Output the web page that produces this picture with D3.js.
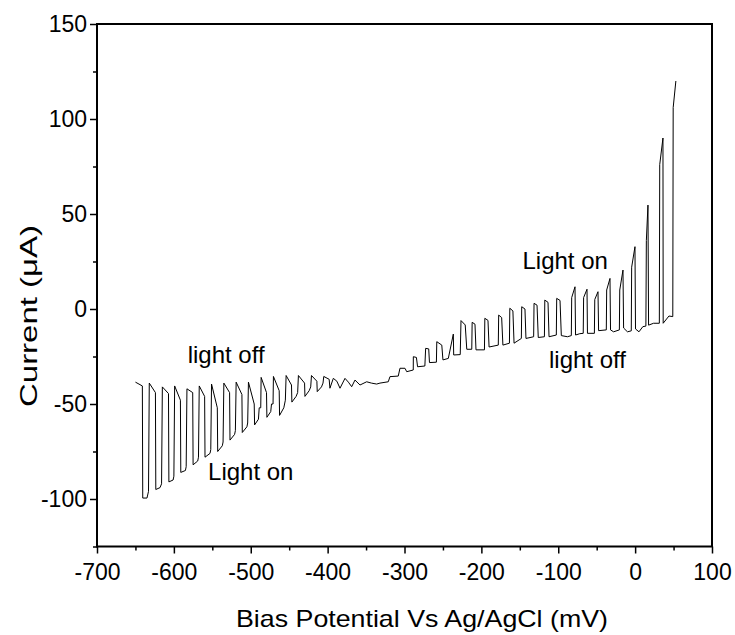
<!DOCTYPE html>
<html>
<head>
<meta charset="utf-8">
<script src="https://cdn.jsdelivr.net/npm/d3@7"></script>
<style>
  body { margin: 0; background: #fff; }
  text { font-family: "Liberation Sans", Arial, sans-serif; fill: #000; }
</style>
</head>
<body>
<svg id="chart" width="735" height="635"></svg>
<script>
// bias potential (mV) / current (uA)
const cathodicScan = [
  [-650, -38.5], [-641, -40.5], [-640.5, -99.5], [-635, -99.5], [-633, -96], [-632, -39],
  [-624, -44], [-623.5, -95], [-618, -94], [-616, -92], [-615, -41],
  [-607, -44.5], [-606.5, -91], [-601, -90], [-600, -88], [-599, -40.5],
  [-591.5, -48], [-591, -86], [-585, -85], [-584, -83], [-583, -42],
  [-575.5, -44], [-575, -82], [-569, -80], [-568, -78], [-567, -40.5],
  [-560, -46], [-559.5, -78], [-553, -76], [-552, -74], [-551, -39.5],
  [-543.5, -52], [-543, -75], [-537, -72], [-536, -70], [-535, -39],
  [-527.5, -44], [-527, -69], [-521, -66], [-520, -64], [-519, -38.5],
  [-511.5, -45], [-511, -65], [-505, -62], [-504, -60], [-503, -38.5],
  [-495.5, -50], [-495, -61], [-490, -58], [-489, -52], [-487, -52], [-486.5, -36],
  [-479.5, -44], [-479, -57], [-474, -54], [-473, -50], [-471, -50], [-470.5, -35.5],
  [-463, -43], [-462.5, -56], [-457, -52], [-455, -48], [-454, -35],
  [-447, -40], [-446.5, -49], [-441, -46], [-439, -44], [-438, -35],
  [-430, -39], [-429.5, -46], [-424, -43], [-422, -41], [-421, -35],
  [-414, -38], [-413.5, -43.5], [-408, -41], [-406, -39], [-405, -35.5],
  [-398, -37], [-397, -41.7]
];

const transitionScan = [
  [-392.6, -36.5], [-388, -38], [-383.9, -41.7], [-377.4, -36.5], [-373, -38.5],
  [-368.7, -40.9], [-364.4, -37.4], [-357.9, -40], [-349.2, -38.3], [-343, -39],
  [-336.2, -39.5], [-331.9, -39], [-321.1, -38.3], [-318.9, -35.6], [-308.1, -35.3],
  [-305.9, -31.2], [-299.4, -31.2], [-297.1, -33], [-288.6, -32.1]
];

const anodicScan = [
  [-288.5, -25.1], [-284.5, -25.5], [-283, -30.4], [-273.5, -30],
  [-272.5, -20.7], [-268.5, -21], [-267.5, -28.2], [-258.5, -28],
  [-258, -17.2], [-251.5, -19], [-250, -26.8], [-243, -26],
  [-236.5, -13.2], [-236, -24.2], [-227.5, -24],
  [-226.5, -6.1], [-221, -8.4], [-219, -21.2], [-212.5, -21.2],
  [-212, -7], [-208.3, -8], [-207, -21.5], [-196, -21.5],
  [-195.5, -4.9], [-191.4, -6], [-190, -20], [-178, -19],
  [-177.5, -3.2], [-173.6, -4.5], [-172, -19], [-163.5, -18],
  [-163, 0.4], [-159, -1], [-157.5, -18], [-148, -15.5],
  [-147.5, 1.2], [-143.3, 0], [-142, -15.5], [-132, -14.6],
  [-131.5, 3], [-127.6, 2], [-126, -15], [-118, -14.6],
  [-117.5, 4.7], [-113.3, 3.5], [-112, -14.6], [-102.5, -13.7],
  [-102, 5.6], [-97.7, 4.5], [-96, -14], [-88, -14.6], [-83, -14],
  [-82.5, 6], [-78.2, 11.7], [-77.5, -13.7], [-72, -13], [-67.5, -12.8],
  [-67, 6], [-62.6, 10.4], [-62, -12.8], [-53, -12.8],
  [-52.5, 5], [-48.3, 9.1], [-47.5, -11.4], [-37.5, -11],
  [-37, 10], [-32.7, 16.1], [-32, -11], [-28, -12], [-20.5, -11],
  [-20, 10], [-15.8, 20.5], [-15, -10], [-10, -12], [-5, -11.5],
  [-4.5, 22], [-0.2, 32.8], [0.5, -10.5], [5, -12], [10, -9.3], [14, -9],
  [14.6, 36], [16.7, 54.7], [17.5, -8.5], [24, -7.5], [31.5, -7.5],
  [32, 76], [36.2, 90], [36.5, -7.5], [44, -3.7], [49, -4],
  [49.5, 106], [53, 120]
];

const xTicks = [-700, -600, -500, -400, -300, -200, -100, 0, 100];
const xMinor = [-650, -550, -450, -350, -250, -150, -50, 50];
const yTicks = [-100, -50, 0, 50, 100, 150];
const yMinor = [-125, -75, -25, 25, 75, 125];

const labels = [
  { text: "light off", x: -532, y: -28.4 },
  { text: "Light on", x: -500, y: -90 },
  { text: "Light on", x: -91, y: 21 },
  { text: "light off", x: -62, y: -31 }
];

const svg = d3.select("#chart");
const mLeft = 97, mRight = 712, mTop = 24, mBottom = 546.5;
const fs = 23;

const x = d3.scaleLinear().domain([-700, 100]).range([mLeft, mRight]);
const y = d3.scaleLinear().domain([-125, 150]).range([mBottom, mTop]);

// minor ticks
svg.append("g")
  .attr("transform", "translate(0," + mBottom + ")")
  .call(d3.axisBottom(x).tickValues(xMinor).tickSize(4).tickFormat(""))
  .call(g => g.select(".domain").remove())
  .selectAll("line").attr("stroke-width", 1.5);
svg.append("g")
  .attr("transform", "translate(" + mLeft + ",0)")
  .call(d3.axisLeft(y).tickValues(yMinor).tickSize(4).tickFormat(""))
  .call(g => g.select(".domain").remove())
  .selectAll("line").attr("stroke-width", 1.5);

// major ticks
var xg = svg.append("g")
  .attr("transform", "translate(0," + mBottom + ")")
  .call(d3.axisBottom(x).tickValues(xTicks).tickSize(7).tickPadding(10).tickFormat(d => String(d)));
xg.select(".domain").remove();
xg.selectAll("line").attr("stroke-width", 1.5);
xg.selectAll("text").attr("font-size", fs).attr("font-family", null);

var yg = svg.append("g")
  .attr("transform", "translate(" + mLeft + ",0)")
  .call(d3.axisLeft(y).tickValues(yTicks).tickSize(7).tickPadding(3).tickFormat(d => String(d)));
yg.select(".domain").remove();
yg.selectAll("line").attr("stroke-width", 1.5);
yg.selectAll("text").attr("font-size", fs).attr("font-family", null);

// frame
svg.append("rect")
  .attr("x", mLeft).attr("y", mTop)
  .attr("width", mRight - mLeft).attr("height", mBottom - mTop)
  .attr("fill", "none").attr("stroke", "#000").attr("stroke-width", 2);

// trace
const trace = cathodicScan.concat(transitionScan, anodicScan);
svg.append("path")
  .datum(trace)
  .attr("fill", "none")
  .attr("stroke", "#000")
  .attr("stroke-width", 1)
  .attr("d", d3.line().x(d => x(d[0])).y(d => y(d[1])));

// annotations
labels.forEach(function (l) {
  svg.append("text")
    .attr("x", x(l.x)).attr("y", y(l.y))
    .attr("text-anchor", "middle")
    .attr("font-size", 24)
    .text(l.text);
});

// axis titles
svg.append("text")
  .attr("x", 422).attr("y", 627)
  .attr("text-anchor", "middle")
  .attr("font-size", 24)
  .attr("textLength", 372)
  .attr("lengthAdjust", "spacingAndGlyphs")
  .text("Bias Potential Vs Ag/AgCl (mV)");

svg.append("text")
  .attr("transform", "translate(37,316) rotate(-90)")
  .attr("text-anchor", "middle")
  .attr("font-size", 24)
  .attr("textLength", 182)
  .attr("lengthAdjust", "spacingAndGlyphs")
  .text("Current (μA)");
</script>
</body>
</html>
